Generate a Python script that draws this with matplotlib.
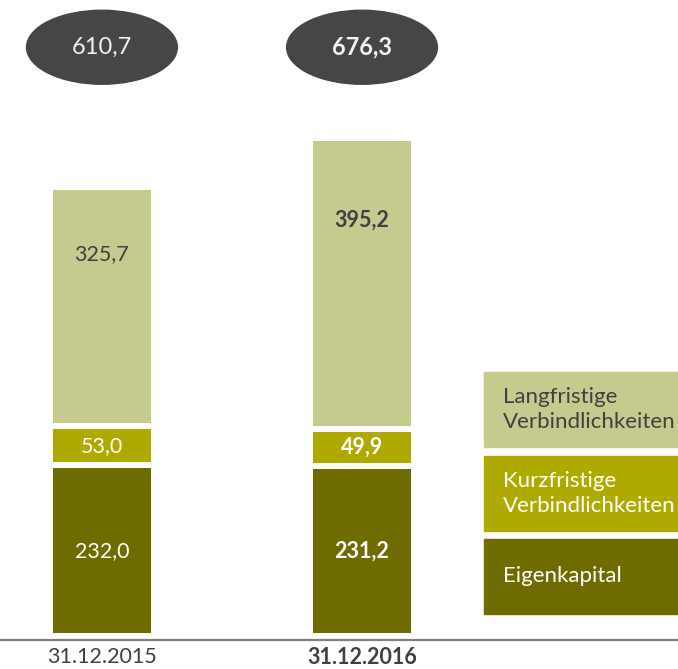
import matplotlib.pyplot as plt
from matplotlib.patches import Ellipse, Rectangle

plt.rcParams['font.family'] = ['Lato', 'DejaVu Sans']

# data (Mio. EUR)
dates = ["31.12.2015", "31.12.2016"]
eigenkapital = [232.0, 231.2]
kurzfristig = [53.0, 49.9]
langfristig = [325.7, 395.2]
totals = [610.7, 676.3]
legend_labels = ["Langfristige\nVerbindlichkeiten", "Kurzfristige\nVerbindlichkeiten", "Eigenkapital"]

c_light = "#C5CA8F"
c_mid = "#AFAA00"
c_dark = "#6E6B00"
c_text = "#404040"


def fmt(v):
    return f"{v:.1f}".replace(".", ",")


fig = plt.figure(figsize=(6.78, 6.69), dpi=100)
ax = fig.add_axes([0, 29 / 669, 1, 640 / 669])

x = [0, 1]
w = 0.4
ax.bar(x, eigenkapital, w, color=c_dark, edgecolor="white", linewidth=4.3)
b2 = [a for a in eigenkapital]
ax.bar(x, kurzfristig, w, bottom=b2, color=c_mid, edgecolor="white", linewidth=4.3)
b3 = [a + b for a, b in zip(eigenkapital, kurzfristig)]
ax.bar(x, langfristig, w, bottom=b3, color=c_light, edgecolor="white", linewidth=4.3)

for i in x:
    weight = "normal" if i == 0 else "bold"
    ax.text(i, eigenkapital[i] / 2, fmt(eigenkapital[i]), ha="center", va="center",
            color="white", fontsize=15.5, fontweight=weight)
    ax.text(i, b2[i] + kurzfristig[i] / 2, fmt(kurzfristig[i]), ha="center", va="center",
            color="white", fontsize=15.5, fontweight=weight)
    ax.text(i, b3[i] + langfristig[i] * 0.72, fmt(langfristig[i]), ha="center", va="center",
            color=c_text, fontsize=15.5, fontweight=weight)
    # total in ellipse
    ax.add_patch(Ellipse((i, 800), 0.58, 100.5, color="#464646", zorder=3))
    ax.text(i, 800, fmt(totals[i]), ha="center", va="center", color="#F2F2F2",
            fontsize=17, fontweight=weight, zorder=4)

ax.set_xlim(-0.392, 2.215)
ax.set_ylim(-5.4, 864.2)
ax.set_xticks(x)
ax.set_xticklabels(dates, fontsize=15.5, color=c_text)
ax.get_xticklabels()[1].set_fontweight("bold")
ax.tick_params(axis="x", length=0, pad=5)
ax.set_yticks([])
for s in ["top", "left", "right"]:
    ax.spines[s].set_visible(False)
ax.spines["bottom"].set_color("#808080")
ax.spines["bottom"].set_linewidth(1.6)

# legend boxes
box_cols = [c_light, c_mid, c_dark]
box_text = [c_text, "white", "white"]
tops = [372, 456, 539]
for lab, col, tc, t in zip(legend_labels, box_cols, box_text, tops):
    h = 75
    fig.patches.append(Rectangle((484 / 678, 1 - (t + h) / 669), 194 / 678, h / 669,
                                 transform=fig.transFigure, color=col, zorder=0))
    fig.text(503 / 678, 1 - (t + h / 2) / 669, lab, ha="left", va="center",
             color=tc, fontsize=16, linespacing=1.35)

fig.savefig("out.png", dpi=100)
